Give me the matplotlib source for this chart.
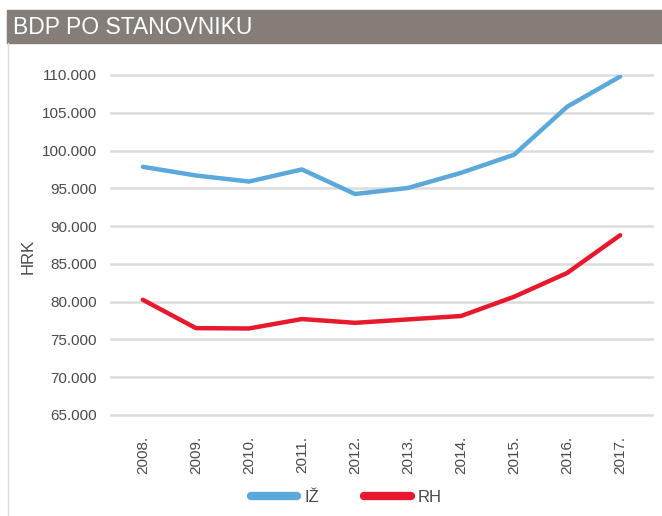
import matplotlib
matplotlib.use("Agg")
import matplotlib.pyplot as plt
import numpy as np
from matplotlib.patches import Rectangle

plt.rcParams['font.family'] = ['Liberation Sans', 'DejaVu Sans']

# data
years = ['2008.', '2009.', '2010.', '2011.', '2012.', '2013.', '2014.', '2015.', '2016.', '2017.']
iz = [97850, 96700, 95900, 97500, 94250, 95050, 97050, 99450, 105800, 109800]
rh = [80250, 76500, 76450, 77700, 77200, 77650, 78100, 80650, 83800, 88800]
yticks = np.arange(65000, 110001, 5000)

blue = '#5aa8dc'
red = '#e8192c'
txt = '#4a4a4a'

fig = plt.figure(figsize=(6.62, 5.16), dpi=100)

# header band
fig.patches.append(Rectangle((7 / 662, 1 - 43 / 516), 1, 33 / 516,
                             transform=fig.transFigure, color='#857d77', zorder=0))
fig.text(13 / 662, 1 - 27 / 516, 'BDP PO STANOVNIKU', color='white',
         fontsize=16.5, va='center', ha='left')
# thin frame line on the left
fig.add_artist(plt.Line2D([8 / 662, 8 / 662], [0, 1 - 43 / 516],
                          transform=fig.transFigure, color='#dddddd', lw=1))

ax = fig.add_axes([111 / 662, 1 - 415 / 516, 541 / 662, 340 / 516])
x = np.arange(len(years))
l1, = ax.plot(x, iz, color=blue, lw=3.2, solid_capstyle='round', label='IŽ', zorder=3)
l2, = ax.plot(x, rh, color=red, lw=3.2, solid_capstyle='round', label='RH', zorder=3)

ax.set_xlim(-0.6, len(years) - 0.4)
ax.set_ylim(65000, 110000)
ax.set_yticks(yticks)
ax.set_yticklabels([f'{v // 1000}.000' for v in yticks], color=txt, fontsize=11)
ax.set_xticks(x)
ax.set_xticklabels(years, rotation=90, color=txt, fontsize=11)
ax.tick_params(length=0)
ax.tick_params(axis='y', pad=10)
ax.tick_params(axis='x', pad=15)
ax.grid(axis='y', color='#dcdcdc', lw=1.8)
ax.set_axisbelow(True)
for g in ax.get_ygridlines():
    g.set_clip_on(False)
for s in ax.spines.values():
    s.set_visible(False)
ax.set_ylabel('HRK', color=txt, fontsize=12)
ax.yaxis.set_label_coords(-0.14, 0.465)

leg = fig.legend(handles=[l1, l2], loc='center', bbox_to_anchor=(346 / 662, 1 - 497 / 516),
                 ncol=2, frameon=False, fontsize=12, handlelength=2.8,
                 columnspacing=2.7, handletextpad=0.4)
for h in leg.legend_handles:
    h.set_linewidth(6)
for t in leg.get_texts():
    t.set_color(txt)

fig.savefig('out.png', dpi=100)
